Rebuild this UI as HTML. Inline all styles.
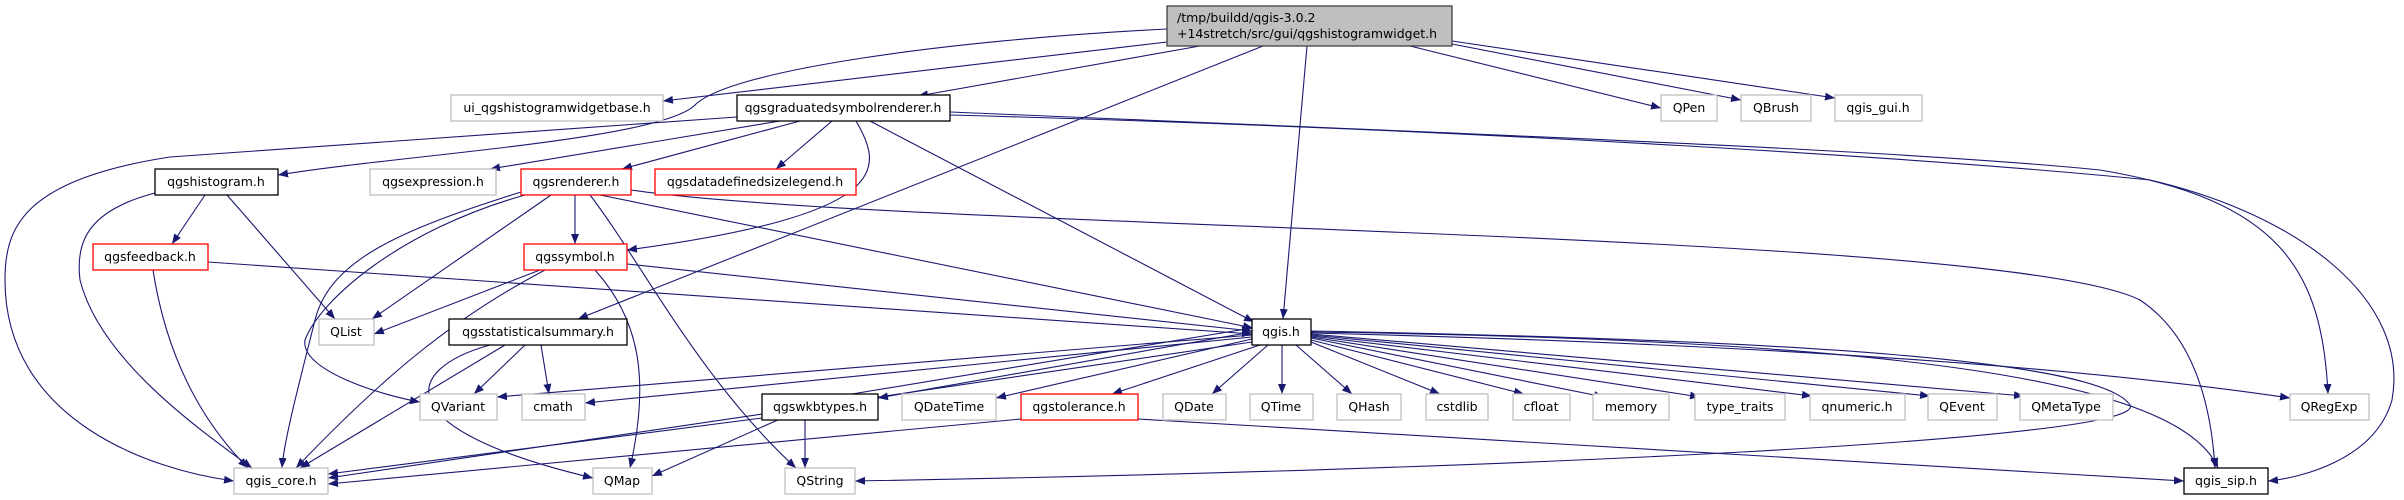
<!DOCTYPE html>
<html><head><meta charset="utf-8"><style>
html,body{margin:0;padding:0;background:#fff;}
svg{display:block;}
text{font-family:"DejaVu Sans","Liberation Sans",sans-serif;font-size:12.5px;fill:#000;}
.e{fill:none;stroke:#191970;stroke-width:1.1;marker-end:url(#a);}
.g{fill:#fff;stroke:#bfbfbf;stroke-width:1.3;}
.r{fill:#fff;stroke:#ff0000;stroke-width:1.3;}
.b{fill:#fff;stroke:#000;stroke-width:1.3;}
</style></head><body>
<svg width="2404" height="500" viewBox="0 0 2404 500" xmlns="http://www.w3.org/2000/svg">
<defs><marker id="a" markerWidth="10" markerHeight="8" refX="10" refY="4" orient="auto" markerUnits="userSpaceOnUse"><path d="M0,0 L10,4 L0,8 z" fill="#191970"/></marker></defs>
<path class="e" d="M1167,42 L663,101"/>
<path class="e" d="M1167,29 C950,40 730,70 695,105 C660,140 400,155 278,175"/>
<path class="e" d="M1200,46 L918,96"/>
<path class="e" d="M1263,46 L578,319"/>
<path class="e" d="M1307,46 L1283,319"/>
<path class="e" d="M1410,46 L1661,108"/>
<path class="e" d="M1452,44 L1741,100"/>
<path class="e" d="M1452,41 L1835,98"/>
<path class="e" d="M737,117 L170,157 C20,180 5,230 5,280 C5,420 150,470 234,481"/>
<path class="e" d="M780,121 L490,169"/>
<path class="e" d="M800,121 L622,169"/>
<path class="e" d="M832,121 L776,169"/>
<path class="e" d="M856,121 C885,170 890,215 627,250"/>
<path class="e" d="M870,121 L1254,322"/>
<path class="e" d="M950,112 C1500,135 1900,150 2100,170 C2280,200 2322,270 2328,394"/>
<path class="e" d="M950,115 C1500,130 1950,160 2150,180 C2300,215 2410,300 2392,400 C2375,460 2300,478 2268,481"/>
<path class="e" d="M205,195 L172,244"/>
<path class="e" d="M227,195 L335,319"/>
<path class="e" d="M155,193 C90,210 75,240 80,280 C100,360 200,430 252,468"/>
<path class="e" d="M153,270 C170,380 220,440 248,468"/>
<path class="e" d="M208,262 L1252,334"/>
<path class="e" d="M551,195 L372,319"/>
<path class="e" d="M575,195 L575,244"/>
<path class="e" d="M521,192 C400,230 330,260 315,320 C300,380 284,440 282,468"/>
<path class="e" d="M525,195 C400,230 320,300 305,340 C300,370 380,395 420,402"/>
<path class="e" d="M600,195 L1253,328"/>
<path class="e" d="M590,195 C640,260 700,380 796,468"/>
<path class="e" d="M631,190 C900,230 2000,230 2140,300 C2200,340 2212,420 2215,468"/>
<path class="e" d="M540,270 L374,334"/>
<path class="e" d="M545,270 C450,320 380,380 296,468"/>
<path class="e" d="M595,270 C640,320 650,380 630,468"/>
<path class="e" d="M627,264 L1252,331"/>
<path class="e" d="M525,345 L474,394"/>
<path class="e" d="M541,345 L549,394"/>
<path class="e" d="M505,345 L300,468"/>
<path class="e" d="M490,345 C400,370 390,430 593,478"/>
<path class="e" d="M1252,335 L497,397"/>
<path class="e" d="M1252,337 L585,403"/>
<path class="e" d="M1252,342 L328,478"/>
<path class="e" d="M1252,332 L878,398"/>
<path class="e" d="M852,394 L1252,328"/>
<path class="e" d="M1252,339 L996,398"/>
<path class="e" d="M1260,345 L1112,394"/>
<path class="e" d="M1268,345 L1212,394"/>
<path class="e" d="M1282,345 L1282,394"/>
<path class="e" d="M1296,345 L1352,394"/>
<path class="e" d="M1311,342 L1440,394"/>
<path class="e" d="M1311,340 L1524,394"/>
<path class="e" d="M1311,338 L1604,397"/>
<path class="e" d="M1311,337 L1700,397"/>
<path class="e" d="M1311,336 L1812,396"/>
<path class="e" d="M1311,335 L1930,396"/>
<path class="e" d="M1311,334 L2024,396"/>
<path class="e" d="M1311,333 C1800,345 2100,370 2290,398"/>
<path class="e" d="M1311,332 C1900,340 2180,380 2218,468"/>
<path class="e" d="M1311,331 C1800,340 2100,360 2130,405 C2150,440 1500,470 855,481"/>
<path class="e" d="M762,418 L328,474"/>
<path class="e" d="M805,419 L805,468"/>
<path class="e" d="M780,419 L652,476"/>
<path class="e" d="M1021,419 L328,484"/>
<path class="e" d="M1138,419 L2184,481"/>
<rect x="1167" y="6" width="285" height="40" fill="#bfbfbf" stroke="#404040" stroke-width="1.3"/>
<text x="1177" y="22">/tmp/buildd/qgis-3.0.2</text>
<text x="1177" y="38">+14stretch/src/gui/qgshistogramwidget.h</text>
<g text-anchor="middle">
<rect class="g" x="451" y="95" width="212" height="26"/><text x="557" y="112">ui_qgshistogramwidgetbase.h</text>
<rect class="b" x="737" y="95" width="213" height="26"/><text x="843" y="112">qgsgraduatedsymbolrenderer.h</text>
<rect class="g" x="1661" y="95" width="56" height="26"/><text x="1689" y="112">QPen</text>
<rect class="g" x="1741" y="95" width="70" height="26"/><text x="1776" y="112">QBrush</text>
<rect class="g" x="1835" y="95" width="87" height="26"/><text x="1878" y="112">qgis_gui.h</text>
<rect class="b" x="155" y="169" width="123" height="26"/><text x="216" y="186">qgshistogram.h</text>
<rect class="g" x="370" y="169" width="126" height="26"/><text x="433" y="186">qgsexpression.h</text>
<rect class="r" x="521" y="169" width="110" height="26"/><text x="576" y="186">qgsrenderer.h</text>
<rect class="r" x="655" y="169" width="201" height="26"/><text x="755" y="186">qgsdatadefinedsizelegend.h</text>
<rect class="r" x="93" y="244" width="115" height="26"/><text x="150" y="261">qgsfeedback.h</text>
<rect class="r" x="524" y="244" width="103" height="26"/><text x="575" y="261">qgssymbol.h</text>
<rect class="g" x="319" y="319" width="55" height="26"/><text x="346" y="336">QList</text>
<rect class="b" x="449" y="319" width="178" height="26"/><text x="538" y="336">qgsstatisticalsummary.h</text>
<rect class="b" x="1252" y="319" width="59" height="26"/><text x="1281" y="336">qgis.h</text>
<rect class="g" x="420" y="394" width="77" height="26"/><text x="458" y="411">QVariant</text>
<rect class="g" x="522" y="394" width="63" height="26"/><text x="553" y="411">cmath</text>
<rect class="b" x="762" y="394" width="116" height="26"/><text x="820" y="411">qgswkbtypes.h</text>
<rect class="g" x="902" y="394" width="94" height="26"/><text x="949" y="411">QDateTime</text>
<rect class="r" x="1021" y="394" width="117" height="26"/><text x="1079" y="411">qgstolerance.h</text>
<rect class="g" x="1163" y="394" width="63" height="26"/><text x="1194" y="411">QDate</text>
<rect class="g" x="1250" y="394" width="63" height="26"/><text x="1281" y="411">QTime</text>
<rect class="g" x="1337" y="394" width="64" height="26"/><text x="1369" y="411">QHash</text>
<rect class="g" x="1426" y="394" width="62" height="26"/><text x="1457" y="411">cstdlib</text>
<rect class="g" x="1513" y="394" width="57" height="26"/><text x="1541" y="411">cfloat</text>
<rect class="g" x="1593" y="394" width="76" height="26"/><text x="1631" y="411">memory</text>
<rect class="g" x="1695" y="394" width="90" height="26"/><text x="1740" y="411">type_traits</text>
<rect class="g" x="1810" y="394" width="95" height="26"/><text x="1857" y="411">qnumeric.h</text>
<rect class="g" x="1928" y="394" width="69" height="26"/><text x="1962" y="411">QEvent</text>
<rect class="g" x="2020" y="394" width="93" height="26"/><text x="2066" y="411">QMetaType</text>
<rect class="g" x="2290" y="394" width="79" height="26"/><text x="2329" y="411">QRegExp</text>
<rect class="g" x="234" y="468" width="94" height="26"/><text x="281" y="485">qgis_core.h</text>
<rect class="g" x="593" y="468" width="59" height="26"/><text x="622" y="485">QMap</text>
<rect class="g" x="785" y="468" width="70" height="26"/><text x="820" y="485">QString</text>
<rect class="b" x="2184" y="468" width="84" height="26"/><text x="2226" y="485">qgis_sip.h</text>
</g>
</svg>
</body></html>
